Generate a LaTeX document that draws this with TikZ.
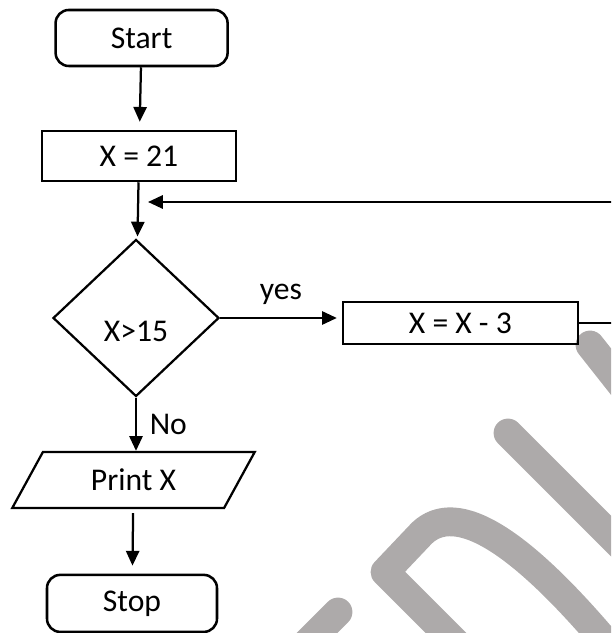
\documentclass[tikz,border=0pt]{standalone}
\usepackage{fontspec}
\setmainfont{Carlito}
\usetikzlibrary{shapes.geometric,arrows.meta,positioning,calc}
\definecolor{markgray}{RGB}{173,170,170}

\begin{document}
\begin{tikzpicture}[
        font=\fontsize{22.5}{27}\selectfont,
        terminal/.style={rectangle, rounded corners=0.33cm, draw, line width=1.8pt, minimum width=4.3cm, minimum height=1.4cm},
        process/.style={rectangle, draw, line width=1.8pt},
        decision/.style={diamond, draw, line width=1.6pt, minimum width=4.15cm, minimum height=3.925cm, text height=1.2cm, text depth=0pt},
        io/.style={trapezium, trapezium left angle=63, trapezium right angle=117, trapezium stretches=true, draw, line width=1.6pt, minimum width=6.075cm, minimum height=1.4cm},
        flow/.style={-{Triangle[length=0.37cm,width=0.33cm]}, line width=1.6pt},
        wmark/.style={markgray, line width=0.72cm, line cap=round, line join=round}
    ]
        % Frame
        \useasboundingbox (0,0) rectangle (15.275,15.825);
        \clip (0,0) rectangle (15.275,15.825);

        % Watermark
        \draw[wmark] (14.75,7.2) -- (16.25,5.3);
        \draw[wmark] (12.7,5.0) -- (17.5,0.2);
        \draw[wmark] (11.6,-0.45) -- (9.625,1.525) -- (10.55,2.5) .. controls (11.4,3.3) and (13.0,2.45) .. (15.7,-0.9);
        \draw[wmark] (8.45,0.525) -- (7.4,-0.525);

        % Boxes
        \node[terminal] (start) at (3.54,14.875) {Start};
        \node[process, minimum width=4.85cm, minimum height=1.25cm] (x21) at (3.475,11.925) {X = 21};
        \node[decision] (test) at (3.4,7.875) {X>15};
        \node[process, minimum width=5.875cm, minimum height=1.05cm] (sub) at (11.51,7.75) {X = X - 3};
        \node[io] (print) at (3.3375,3.825) {Print X};
        \node[terminal, minimum width=4.25cm, minimum height=1.425cm] (stop) at (3.3,0.74) {Stop};
        \coordinate (join) at (3.43,10.775);

        % Arrows
        \draw[flow, shorten >=0.2cm] (start) -- (x21);
        \draw[flow, shorten >=0.08cm] (x21) -- (test);
        \draw[flow, shorten >=0.12cm] (test.east) -- (sub.west |- test.east) node[midway, above=0.2cm] {yes};
        \draw[flow] (test.south) -- (print.north -| test.south) node[midway, right=0.2cm] {No};
        \draw[flow, shorten <=0.1cm, shorten >=0.2cm] (print) -- (stop);
        \draw[flow, shorten >=0.27cm] (sub.east) -- ++(1.5,0) |- (join);

    \end{tikzpicture}
\end{document}
